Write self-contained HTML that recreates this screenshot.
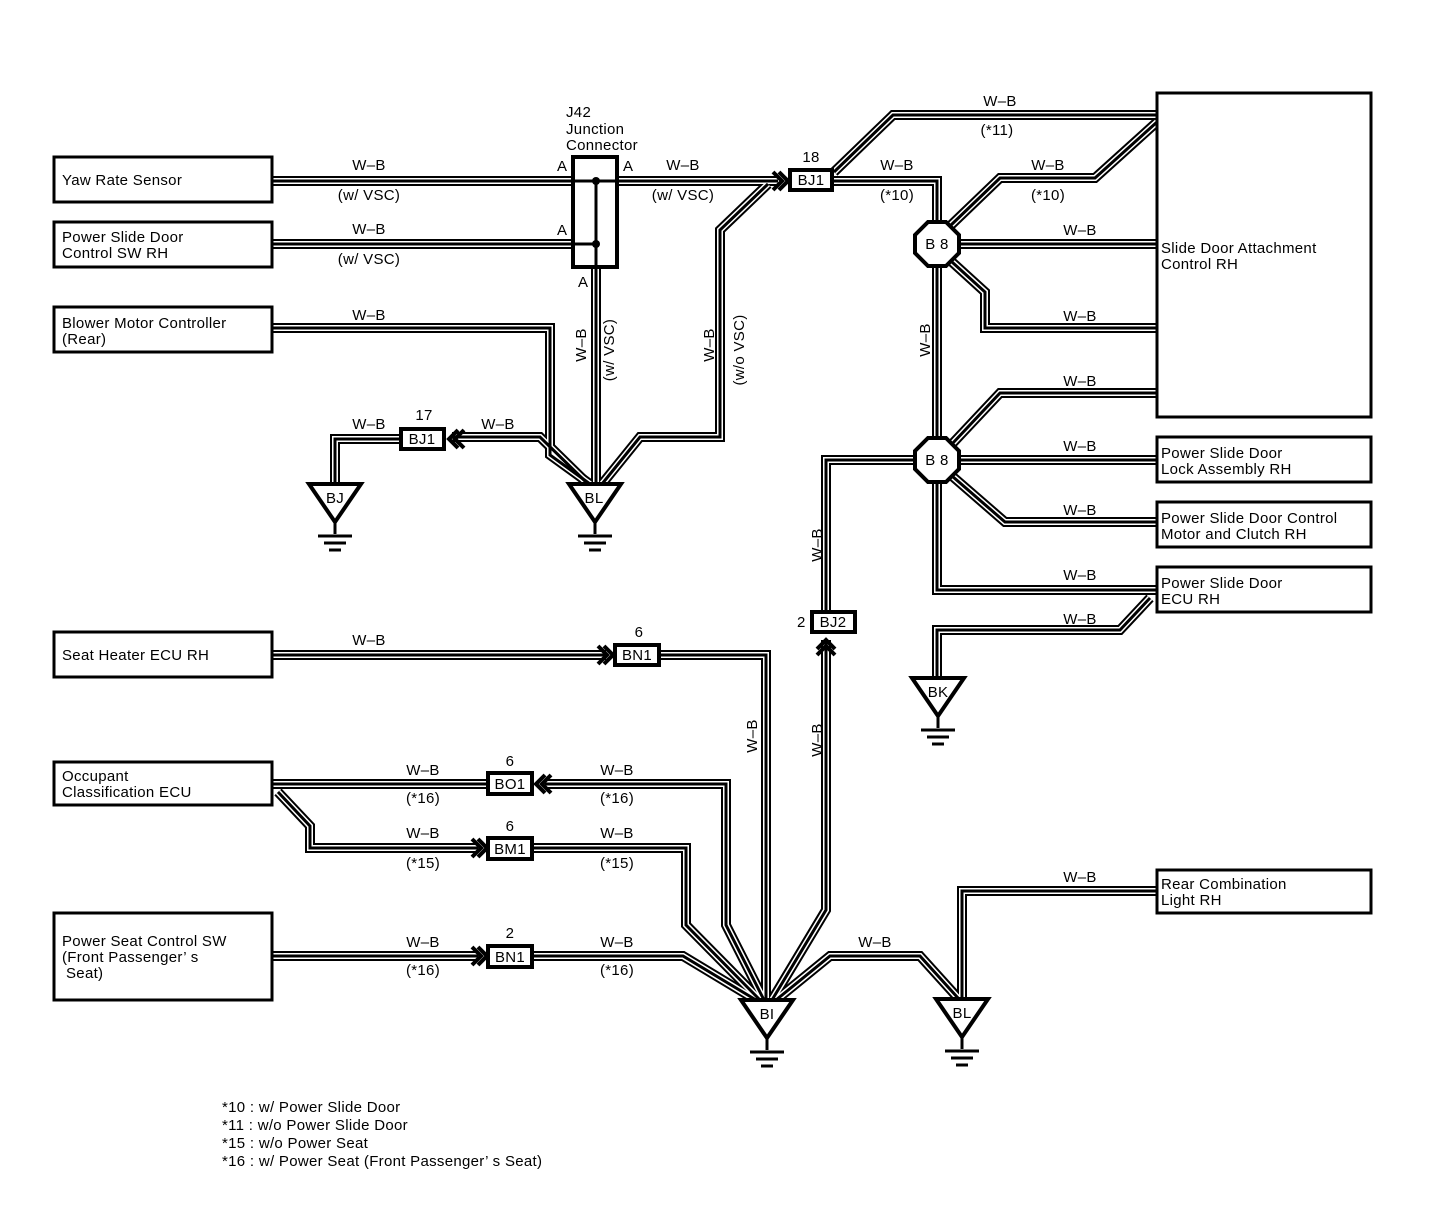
<!DOCTYPE html>
<html><head><meta charset="utf-8"><style>
html,body{margin:0;padding:0;background:#fff}
svg{display:block}
text{font-family:"Liberation Sans",sans-serif;font-size:15px;letter-spacing:0.3px;fill:#000}
</style></head><body>
<svg width="1456" height="1232" viewBox="0 0 1456 1232" xmlns="http://www.w3.org/2000/svg">
<defs>
<g id="wires" fill="none" stroke-linejoin="miter">
<path d="M272 181 H573"/>
<path d="M617 181 H778"/>
<path d="M272 244 H573"/>
<path d="M596 267 V484"/>
<path d="M272 328 H550 V455 L590 484"/>
<path d="M588 484 L540 437 H452"/>
<path d="M400 439 H335 V484"/>
<path d="M602 484 L640 437 H720 V230 L768 184"/>
<path d="M832 181 H937 V222"/>
<path d="M834 172 L893 115 H1157"/>
<path d="M950 226 L1000 178 H1095 L1157 122"/>
<path d="M959 244 H1157"/>
<path d="M952 262 L985 292 V328 H1157"/>
<path d="M937 266 V438"/>
<path d="M952 444 L1000 393 H1157"/>
<path d="M959 460 H1157"/>
<path d="M952 476 L1005 522 H1157"/>
<path d="M937 482 V590 H1157"/>
<path d="M915 460 H826 V612"/>
<path d="M826 640 V910 L772 1000"/>
<path d="M1150 598 L1120 630 H937 V678"/>
<path d="M272 655 H606"/>
<path d="M660 655 H766 V1000"/>
<path d="M272 784 H488"/>
<path d="M545 784 H726 V925 L764 1000"/>
<path d="M278 792 L310 826 V848 H478"/>
<path d="M532 848 H686 V925 L760 1000"/>
<path d="M272 956 H478"/>
<path d="M532 956 H683 L756 1000"/>
<path d="M776 1000 L830 956 H920 L958 998"/>
<path d="M1157 891 H962 V998"/>
</g>
<g id="gnd" fill="none" stroke="#000">
<path d="M-26 0 H26 L0 38 Z" stroke-width="4" fill="#fff"/>
<path d="M0 38 V50" stroke-width="3"/>
<path d="M-17 52 H17 M-11 59 H11 M-6 66 H6" stroke-width="3"/>
</g>
</defs>
<use href="#wires" stroke="#000" stroke-width="10"/>
<use href="#wires" stroke="#fff" stroke-width="6"/>
<use href="#wires" stroke="#000" stroke-width="3"/>

<g fill="#fff" stroke="#000" stroke-width="3">
<rect x="54" y="157" width="218" height="45"/>
<rect x="54" y="222" width="218" height="45"/>
<rect x="54" y="307" width="218" height="45"/>
<rect x="54" y="632" width="218" height="45"/>
<rect x="54" y="762" width="218" height="43"/>
<rect x="54" y="913" width="218" height="87"/>
<rect x="1157" y="93" width="214" height="324"/>
<rect x="1157" y="437" width="214" height="45"/>
<rect x="1157" y="502" width="214" height="45"/>
<rect x="1157" y="567" width="214" height="45"/>
<rect x="1157" y="870" width="214" height="43"/>
</g>
<rect x="573" y="157" width="44" height="110" fill="#fff" stroke="#000" stroke-width="4"/>
<path d="M575 181 H615 M575 244 H596 M596 181 V267" stroke="#000" stroke-width="3" fill="none"/>
<circle cx="596" cy="181" r="4"/><circle cx="596" cy="244" r="4"/>

<g fill="#fff" stroke="#000" stroke-width="4">
<rect x="790" y="170" width="42" height="20"/>
<rect x="401" y="429" width="43" height="20"/>
<rect x="812" y="612" width="43" height="20"/>
<rect x="615" y="645" width="44" height="20"/>
<rect x="488" y="773" width="44" height="21"/>
<rect x="488" y="838" width="44" height="21"/>
<rect x="488" y="946" width="44" height="21"/>
<polygon points="928,222 946,222 959,235 959,253 946,266 928,266 915,253 915,235"/>
<polygon points="928,438 946,438 959,451 959,469 946,482 928,482 915,469 915,451"/>
</g>
<g fill="none" stroke="#000" stroke-width="4">
<path d="M773 172 L782 181 L773 190 M779 172 L788 181 L779 190"/>
<path d="M458 430 L449 439 L458 448 M464 430 L455 439 L464 448"/>
<path d="M817 649 L826 640 L835 649 M817 655 L826 646 L835 655"/>
<path d="M598 646 L607 655 L598 664 M604 646 L613 655 L604 664"/>
<path d="M545 775 L536 784 L545 793 M551 775 L542 784 L551 793"/>
<path d="M472 839 L481 848 L472 857 M478 839 L487 848 L478 857"/>
<path d="M472 947 L481 956 L472 965 M478 947 L487 956 L478 965"/>
</g>
<use href="#gnd" x="335" y="484"/>
<use href="#gnd" x="595" y="484"/>
<use href="#gnd" x="938" y="678"/>
<use href="#gnd" x="767" y="1000"/>
<use href="#gnd" x="962" y="999"/>
<g text-anchor="middle">
<text x="335" y="503">BJ</text>
<text x="594" y="503">BL</text>
<text x="938" y="697">BK</text>
<text x="767" y="1019">BI</text>
<text x="962" y="1018">BL</text>
<text x="811" y="185">BJ1</text>
<text x="422" y="444">BJ1</text>
<text x="833" y="627">BJ2</text>
<text x="637" y="660">BN1</text>
<text x="510" y="789">BO1</text>
<text x="510" y="854">BM1</text>
<text x="510" y="962">BN1</text>
<text x="937" y="249">B 8</text>
<text x="937" y="465">B 8</text>
<text x="811" y="162">18</text>
<text x="424" y="420">17</text>
<text x="639" y="637">6</text>
<text x="510" y="766">6</text>
<text x="510" y="831">6</text>
<text x="510" y="938">2</text>
</g>
<text x="797" y="627">2</text>

<text x="62" y="185">Yaw Rate Sensor</text>
<text x="62" y="242">Power Slide Door</text><text x="62" y="258">Control SW RH</text>
<text x="62" y="328">Blower Motor Controller</text><text x="62" y="344">(Rear)</text>
<text x="62" y="660">Seat Heater ECU RH</text>
<text x="62" y="781">Occupant</text><text x="62" y="797">Classification ECU</text>
<text x="62" y="946">Power Seat Control SW</text><text x="62" y="962">(Front Passenger’ s</text><text x="66" y="978">Seat)</text>
<text x="1161" y="253">Slide Door Attachment</text><text x="1161" y="269">Control RH</text>
<text x="1161" y="458">Power Slide Door</text><text x="1161" y="474">Lock Assembly RH</text>
<text x="1161" y="523">Power Slide Door Control</text><text x="1161" y="539">Motor and Clutch RH</text>
<text x="1161" y="588">Power Slide Door</text><text x="1161" y="604">ECU RH</text>
<text x="1161" y="889">Rear Combination</text><text x="1161" y="905">Light RH</text>
<text x="566" y="117">J42</text><text x="566" y="134">Junction</text><text x="566" y="150">Connector</text>
<text x="557" y="171">A</text><text x="623" y="171">A</text><text x="557" y="235">A</text><text x="578" y="287">A</text>

<g text-anchor="middle">
<text x="369" y="170">W–B</text><text x="369" y="200">(w/ VSC)</text>
<text x="369" y="234">W–B</text><text x="369" y="264">(w/ VSC)</text>
<text x="369" y="320">W–B</text>
<text x="683" y="170">W–B</text><text x="683" y="200">(w/ VSC)</text>
<text x="369" y="429">W–B</text><text x="498" y="429">W–B</text>
<text x="1000" y="106">W–B</text><text x="997" y="135">(*11)</text>
<text x="897" y="170">W–B</text><text x="897" y="200">(*10)</text>
<text x="1048" y="170">W–B</text><text x="1048" y="200">(*10)</text>
<text x="1080" y="235">W–B</text>
<text x="1080" y="321">W–B</text>
<text x="1080" y="386">W–B</text>
<text x="1080" y="451">W–B</text>
<text x="1080" y="515">W–B</text>
<text x="1080" y="580">W–B</text>
<text x="1080" y="624">W–B</text>
<text x="1080" y="882">W–B</text>
<text x="875" y="947">W–B</text>
<text x="369" y="645">W–B</text>
<text x="423" y="775">W–B</text><text x="423" y="803">(*16)</text>
<text x="617" y="775">W–B</text><text x="617" y="803">(*16)</text>
<text x="423" y="838">W–B</text><text x="423" y="868">(*15)</text>
<text x="617" y="838">W–B</text><text x="617" y="868">(*15)</text>
<text x="423" y="947">W–B</text><text x="423" y="975">(*16)</text>
<text x="617" y="947">W–B</text><text x="617" y="975">(*16)</text>
</g>
<g text-anchor="middle">
<text transform="translate(586,345) rotate(-90)">W–B</text>
<text transform="translate(614,350) rotate(-90)">(w/ VSC)</text>
<text transform="translate(714,345) rotate(-90)">W–B</text>
<text transform="translate(744,350) rotate(-90)">(w/o VSC)</text>
<text transform="translate(930,340) rotate(-90)">W–B</text>
<text transform="translate(822,545) rotate(-90)">W–B</text>
<text transform="translate(822,740) rotate(-90)">W–B</text>
<text transform="translate(757,736) rotate(-90)">W–B</text>
</g>

<g style="letter-spacing:0.6px">
<text x="222" y="1112">*10 : w/ Power Slide Door</text>
<text x="222" y="1130">*11 : w/o Power Slide Door</text>
<text x="222" y="1148">*15 : w/o Power Seat</text>
<text x="222" y="1166">*16 : w/ Power Seat (Front Passenger’ s Seat)</text>
</g>
</svg>
</body></html>
